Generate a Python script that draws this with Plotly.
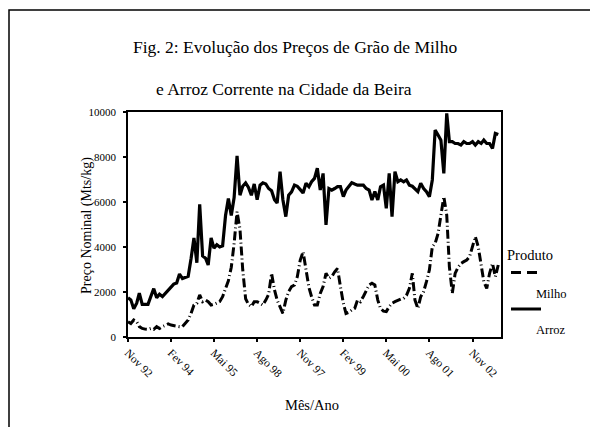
import pandas as pd
import plotly.graph_objects as go

start_month = "1992-11-01"

arroz = [1750, 1650, 1250, 1500, 1950, 1450, 1450, 1450, 1800, 2150,
         1750, 1900, 1800, 1950, 2100, 2250, 2350, 2400, 2800, 2600,
         2650, 2700, 3500, 4400, 3300, 5900, 3600, 3500, 3200, 4400,
         3950, 4100, 4000, 4050, 5400, 6150, 5400, 6200, 8050, 6300,
         6700, 6850, 6650, 6300, 6800, 6100, 6750, 6850, 6800, 6600,
         6500, 6100, 5950, 7350, 6100, 5350, 6300, 6450, 6750, 6700,
         6550, 6400, 6830, 6680, 6900, 7050, 7500, 6530, 7270, 4980,
         6600, 6530, 6600, 6680, 6680, 6240, 6530, 6700, 6860, 6800,
         6750, 6750, 6750, 6600, 6530, 6090, 6460, 6090, 6680, 6750,
         5720, 7270, 5350, 7350, 6900, 6980, 6900, 6980, 6750, 6700,
         6600, 6460, 6830, 6600, 6460, 6240, 6980, 9200, 8980, 8750,
         7270, 9940, 8680, 8680, 8600, 8600, 8530, 8680, 8600, 8600,
         8680, 8530, 8680, 8600, 8750, 8600, 8600, 8380, 9050, 9000]

milho = [680, 600, 755, 680, 460, 380, 350, 340, 380, 340,
         460, 380, 460, 520, 580, 530, 500, 480, 460, 460,
         600, 755, 1050, 1420, 1500, 1870, 1570, 1640, 1570, 1420,
         1450, 1500, 1570, 1790, 2160, 2500, 3100, 4160, 5570, 4800,
         3000, 1700, 1450, 1350, 1570, 1570, 1500, 1420, 1640, 1900,
         2830, 2090, 1640, 1300, 1050, 1640, 2020, 2240, 2310, 2680,
         3420, 3790, 3050, 2200, 1790, 1420, 1420, 1940, 2240, 2830,
         2610, 2680, 2900, 3050, 2240, 1500, 1050, 1100, 1200, 1270,
         1640, 1570, 1800, 2020, 2310, 2390, 2310, 1640, 1270, 1150,
         1130, 1350, 1500, 1570, 1640, 1680, 1720, 1850, 2160, 2830,
         1640, 1270, 1790, 2020, 2460, 2980, 4010, 4160, 4600, 5500,
         6240, 5420, 3120, 1940, 2830, 3100, 3270, 3350, 3420, 3570,
         4010, 4460, 4010, 3270, 2460, 2160, 2830, 3270, 2680, 3200]

tick_dates = ["1992-11-01", "1994-02-01", "1995-05-01", "1996-08-01",
              "1997-11-01", "1999-02-01", "2000-05-01", "2001-08-01",
              "2002-11-01"]
tick_labels = ["Nov 92", "Fev 94", "Mai 95", "Ago 98", "Nov 97",
               "Fev 99", "Mai 00", "Ago 01", "Nov 02"]
y_ticks = [0, 2000, 4000, 6000, 8000, 10000]
y_tick_labels = ["0", "2000", "4000", "6000", "8000", "10000"]

months = pd.date_range(start_month, periods=len(arroz), freq="MS")

FONT = "Liberation Serif, Times New Roman, serif"

fig = go.Figure()
fig.add_trace(go.Scatter(x=months, y=milho, mode="lines", name="Milho",
                         line=dict(color="black", width=3,
                                   dash="9px,3px,1px,3px")))
fig.add_trace(go.Scatter(x=months, y=arroz, mode="lines", name="Arroz",
                         line=dict(color="black", width=3.2)))

# plot area in page pixels: x 128..501, y 112..337
L, R, T, B = 128, 501, 112, 337
W, H = R - L, B - T


def px(x):
    return (x - L) / W


def py(y):
    return (B - y) / H


shapes = [
    dict(type="rect", xref="paper", yref="paper",
         x0=px(9), x1=px(720), y0=py(520), y1=py(10),
         line=dict(color="black", width=1.5), fillcolor="rgba(0,0,0,0)",
         layer="below"),
    dict(type="line", xref="paper", yref="paper",
         x0=px(511), x1=px(541), y0=py(272.5), y1=py(272.5),
         line=dict(color="black", width=3, dash="10px,6px")),
    dict(type="line", xref="paper", yref="paper",
         x0=px(511), x1=px(541), y0=py(309), y1=py(309),
         line=dict(color="black", width=3)),
]


def ann(text, x, y, size, xanchor="center", angle=0):
    return dict(text=text, xref="paper", yref="paper", x=px(x), y=py(y),
                showarrow=False, xanchor=xanchor, yanchor="middle",
                textangle=angle,
                font=dict(family=FONT, size=size, color="black"))


annotations = [
    ann("Fig. 2: Evolução dos Preços de Grão de Milho", 295, 47, 17.5),
    ann("e Arroz Corrente na Cidade da Beira", 284, 89, 17.5),
    ann("Preço Nominal (Mts/kg)", 87, 226, 14, angle=-90),
    ann("Mês/Ano", 312, 405, 14.5),
    ann("Produto", 505, 255, 14.5, xanchor="left"),
    ann("Milho", 534, 294, 12.5, xanchor="left"),
    ann("Arroz", 534, 330, 12.5, xanchor="left"),
]

x_end = months[0] + pd.Timedelta(days=30.44 * 129.9)

fig.update_layout(
    width=590, height=427,
    margin=dict(l=L, r=590 - R, t=T, b=427 - B, pad=0),
    paper_bgcolor="white", plot_bgcolor="white",
    showlegend=False,
    shapes=shapes, annotations=annotations,
    font=dict(family=FONT, color="black"),
)
fig.update_xaxes(
    range=[months[0], x_end], tickmode="array", tickvals=tick_dates,
    ticktext=tick_labels, tickangle=45, ticks="outside", ticklen=3,
    tickwidth=2, tickcolor="black", showline=True, linecolor="black",
    linewidth=1.5, mirror=True, showgrid=False, zeroline=False,
    tickfont=dict(family=FONT, size=11.5, color="black"),
)
fig.update_yaxes(
    range=[0, 10000], tickmode="array", tickvals=y_ticks,
    ticktext=y_tick_labels,
    ticks="outside", ticklen=3, tickwidth=2, tickcolor="black",
    showline=True, linecolor="black", linewidth=1.5, mirror=True,
    showgrid=False, zeroline=False, ticklabelstandoff=5,
    tickfont=dict(family=FONT, size=11, color="black"),
)

fig.write_html(
    "out.html",
    config={"displayModeBar": False},
    post_script="document.body.style.margin='0';"
                "document.body.style.overflow='hidden';",
)
